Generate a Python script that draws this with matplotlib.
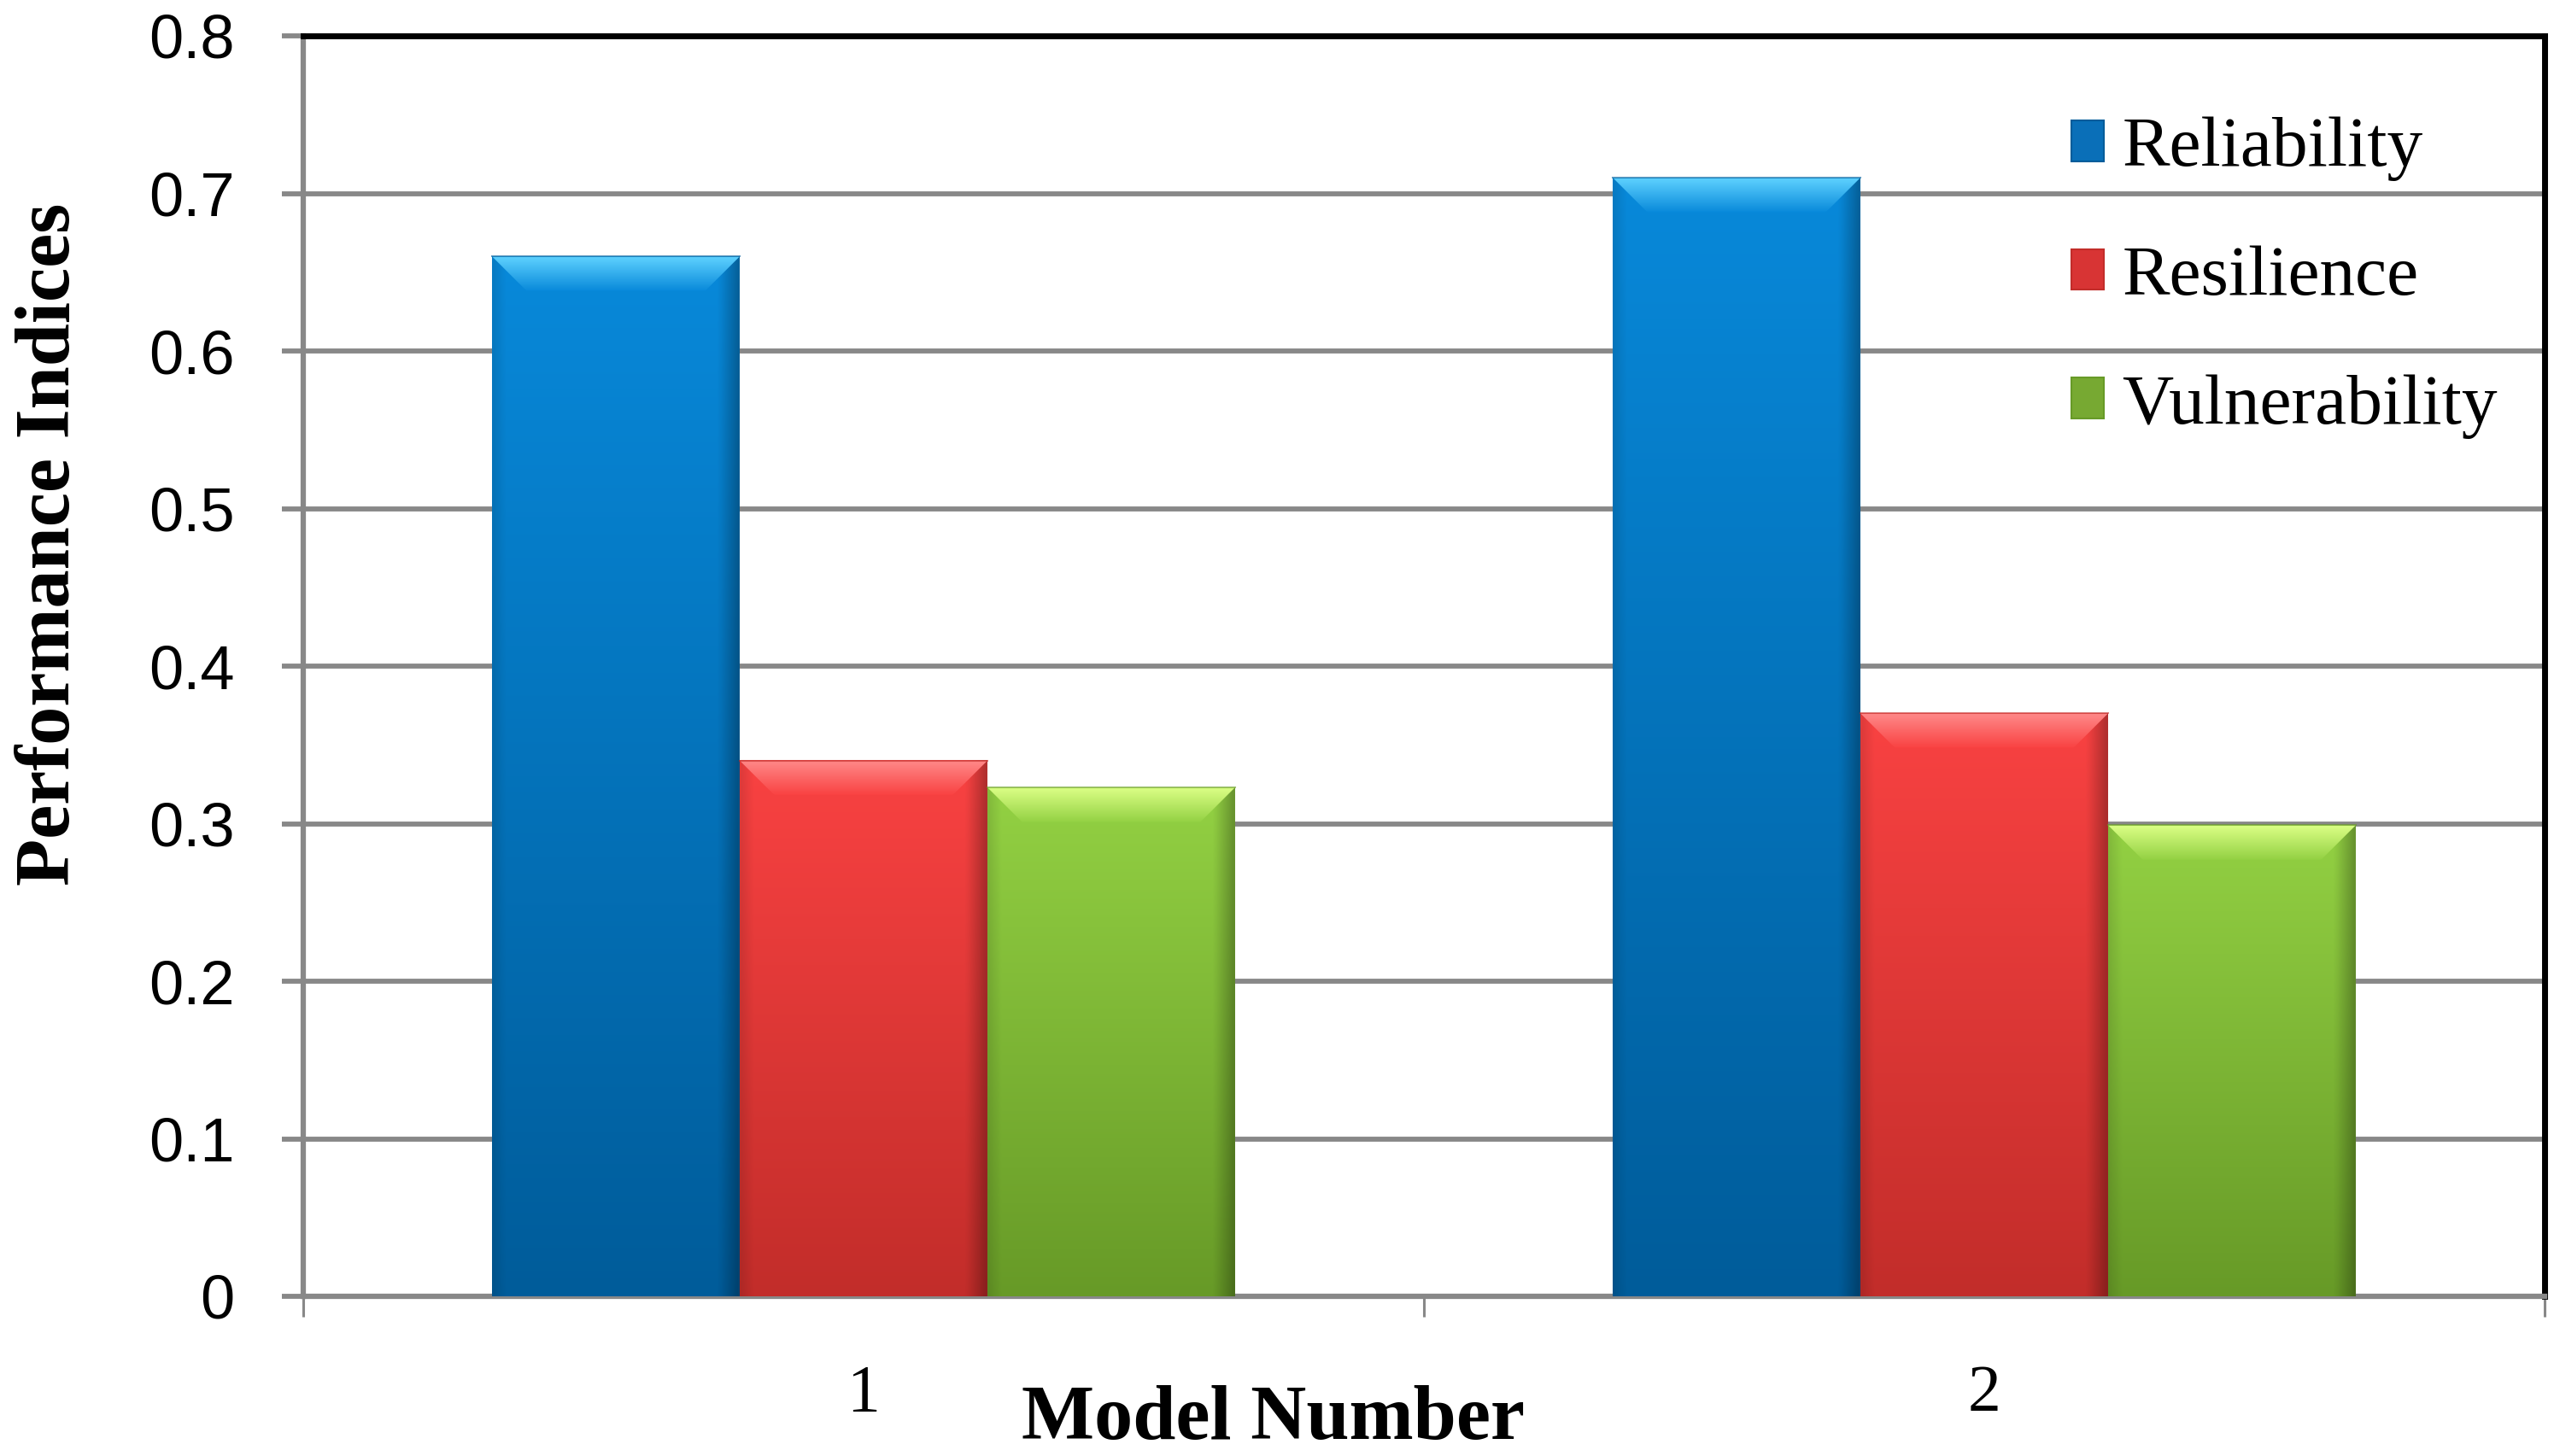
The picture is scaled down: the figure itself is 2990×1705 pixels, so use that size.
import numpy as np
import matplotlib
matplotlib.use('Agg')
import matplotlib.pyplot as plt
from matplotlib.patches import Patch, Polygon
from matplotlib.colors import to_rgb

# data
models = ['1', '2']
series = ['Reliability', 'Resilience', 'Vulnerability']
reliability = [0.66, 0.71]
resilience = [0.34, 0.37]
vulnerability = [0.323, 0.299]
yticks = [0, 0.1, 0.2, 0.3, 0.4, 0.5, 0.6, 0.7, 0.8]

# colours: body top, body bottom, bevel highlight, legend swatch
top_cols = ['#0889da', '#f94242', '#93d143']
bot_cols = ['#005c9a', '#c22d2a', '#679a27']
bev_cols = ['#5fd2ff', '#ff8a8a', '#dcff86']
leg_cols = ['#0a6fb8', '#d83434', '#77a932']

grey = '#888888'

fig = plt.figure(figsize=(29.9, 17.05), dpi=100)
ax = fig.add_axes([355/2990, 1-1518/1705, (2979-355)/2990, (1518-42)/1705])

x = np.arange(1, len(models)+1)
w = 0.221
vals = [reliability, resilience, vulnerability]


def grad_img(c_top, c_bot, n=200, m=60, edge=True):
    t = np.linspace(0, 1, n)[:, None, None]
    a = np.array(to_rgb(c_top))[None, None, :]
    b = np.array(to_rgb(c_bot))[None, None, :]
    img = a*(1-t) + b*t
    img = np.repeat(img, m, axis=1)
    if edge:
        u = np.linspace(0, 1, m)
        f = np.ones(m)
        f -= 0.28*np.clip((u-0.92)/0.08, 0, 1)
        f -= 0.10*np.clip((0.05-u)/0.05, 0, 1)
        img = img*f[None, :, None]
    return np.clip(img, 0, 1)


bars = []
for k in range(3):
    b = ax.bar(x + (k-1)*w, vals[k], w, color='none', edgecolor='none', zorder=3)
    bars.append(b)
    for rect in b:
        x0 = rect.get_x()
        h = rect.get_height()
        ax.imshow(grad_img(top_cols[k], bot_cols[k]), extent=(x0, x0+w, 0, h),
                  origin='upper', aspect='auto', interpolation='bilinear', zorder=3)
        # top bevel
        dx = 0.031
        dy = 0.022
        poly = Polygon([(x0, h), (x0+w, h), (x0+w-dx, h-dy), (x0+dx, h-dy)],
                       closed=True, facecolor='none', edgecolor='none')
        ax.add_patch(poly)
        im = ax.imshow(grad_img(bev_cols[k], top_cols[k], edge=False),
                       extent=(x0, x0+w, h-dy, h), origin='upper', aspect='auto',
                       interpolation='bilinear', zorder=4)
        im.set_clip_path(poly)
        ax.plot([x0, x0+w], [h, h], color=bot_cols[k], lw=1.5, zorder=5, alpha=0.6)

ax.set_xlim(0.5, 2.5)
ax.set_ylim(0, 0.8)

ax.set_yticks(yticks)
ax.set_yticklabels(['0' if v == 0 else '%.1f' % v for v in yticks],
                   fontfamily='Liberation Sans', fontsize=52)
ax.yaxis.grid(True, color=grey, lw=4.2, zorder=0)
ax.set_axisbelow(True)
ax.tick_params(axis='y', direction='out', length=18, width=4.2, color=grey, pad=40)

ax.set_xticks(x)
ax.set_xticklabels(models, fontfamily='Liberation Serif', fontsize=56)
ax.set_xticks([0.5, 1.5, 2.5], minor=True)
ax.tick_params(axis='x', which='major', length=0, pad=57)
ax.tick_params(axis='x', which='minor', direction='out', length=17, width=2.2, color=grey)

for s in ['left', 'bottom']:
    ax.spines[s].set_color(grey)
    ax.spines[s].set_linewidth(4.5)
for s in ['top', 'right']:
    ax.spines[s].set_color('black')
    ax.spines[s].set_linewidth(5)

fig.text(1490/2990, 1-1685/1705, 'Model Number', ha='center', va='baseline',
         fontfamily='Liberation Serif', fontweight='bold', fontsize=65)
fig.text(100/2990, 1-637/1705, 'Performance Indices', rotation=90, ha='right', va='center',
         fontfamily='Liberation Serif', fontweight='bold', fontsize=65)

handles = [Patch(facecolor=leg_cols[k], edgecolor=bot_cols[k], lw=1.5) for k in range(3)]
leg = ax.legend(handles, series, loc='upper left', bbox_to_anchor=(2425/2990, 1-137/1705),
                bbox_transform=fig.transFigure, frameon=False, borderpad=0, borderaxespad=0,
                handlelength=0.46, handleheight=0.5, handletextpad=0.25, labelspacing=0.9,
                prop={'family': 'Liberation Serif', 'size': 60})

fig.savefig('out.png', dpi=100)
